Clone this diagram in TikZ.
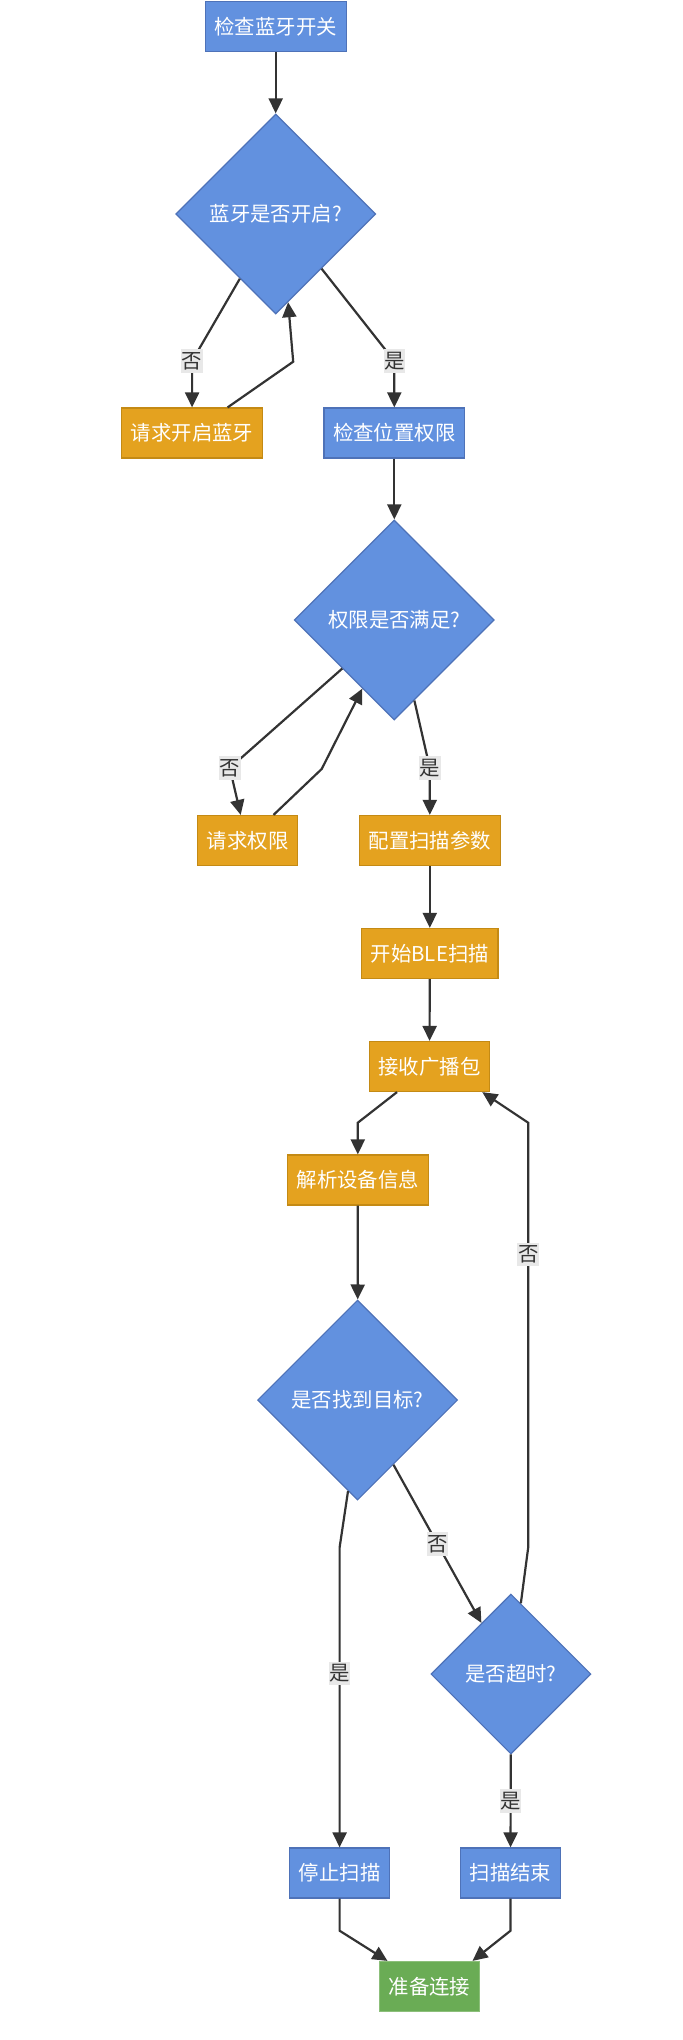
\documentclass[tikz,border=0pt]{standalone}
\usepackage{fontspec}
\setmainfont{Noto Sans CJK SC}
\usetikzlibrary{shapes.geometric, arrows.meta}

\definecolor{checkfill}{HTML}{6291DF}
\definecolor{checkline}{HTML}{4E72B8}
\definecolor{actionfill}{HTML}{E4A21F}
\definecolor{actionline}{HTML}{C48A14}
\definecolor{finishfill}{HTML}{6AAC55}
\definecolor{finishline}{HTML}{8CBF7A}
\definecolor{flowgray}{HTML}{333333}
\definecolor{answerfill}{HTML}{E8E8E8}

\newcommand{\flowfont}{\fontsize{10.2}{11.5}\selectfont}

\begin{document}
\begin{tikzpicture}[
    x = 0.5pt,
    y = -0.5pt,
    box/.style = {
        rectangle,
        minimum height = 25pt,
        inner xsep = 4.6pt,
        text = white,
        font = \flowfont,
        line width = 0.6pt
    },
    check/.style = {box, draw = checkline, fill = checkfill},
    action/.style = {box, draw = actionline, fill = actionfill},
    finish/.style = {box, draw = finishline, fill = finishfill},
    decision/.style = {
        diamond,
        aspect = 1,
        minimum width = 100pt,
        minimum height = 100pt,
        inner sep = 0pt,
        text = white,
        draw = checkline,
        fill = checkfill,
        line width = 0.6pt,
        font = \flowfont
    },
    arrow/.style = {
        -{Triangle[length = 7.5pt, width = 7pt]},
        line width = 1.1pt,
        draw = flowgray
    },
    answer/.style = {
        fill = answerfill,
        text = flowgray,
        font = \flowfont,
        inner xsep = 0.3pt,
        inner ysep = 1.5pt
    }
]
    \useasboundingbox (0,0) rectangle (683,2040);

    % Bluetooth switch
    \node [check] (btswitch) at (275.7, 26.5) {检查蓝牙开关};
    \node [decision] (btopen) at (275.7, 214) {蓝牙是否开启?};
    \node [action] (reqbt) at (192.1, 433) {请求开启蓝牙};
    \node [check] (location) at (394.3, 433) {检查位置权限};

    % Permission
    \node [decision] (permok) at (394.3, 620) {权限是否满足?};
    \node [action] (reqperm) at (247.7, 840.5) {请求权限};
    \node [action] (config) at (429.8, 840.5) {配置扫描参数};

    % Scanning
    \node [action] (blescan) at (429.8, 953.5) {开始BLE扫描};
    \node [action] (receive) at (429.5, 1066.5) {接收广播包};
    \node [action] (parse) at (357.8, 1180) {解析设备信息};
    \node [decision] (found) at (357.6, 1400) {是否找到目标?};
    \node [decision, minimum width = 80pt, minimum height = 80pt] (timeout) at (510.9, 1674) {是否超时?};

    % End of scan
    \node [check] (stop) at (339.6, 1873) {停止扫描};
    \node [check] (scanend) at (510.5, 1873) {扫描结束};
    \node [finish] (ready) at (429.5, 1986.5) {准备连接};

    % Bends
    \coordinate (btno) at (192.1, 361);
    \coordinate (btback) at (293.2, 361.7);
    \coordinate (btyes) at (394.3, 361);
    \coordinate (permno) at (229.8, 768);
    \coordinate (permback) at (321.7, 769);
    \coordinate (permyes) at (429.8, 768);
    \coordinate (parsein) at (357.8, 1122.7);
    \coordinate (foundyes) at (339.6, 1547.5);
    \coordinate (timeoutup) at (528.2, 1547.5);
    \coordinate (timeouttop) at (528.2, 1122.7);
    \coordinate (stopout) at (339.6, 1930.7);
    \coordinate (endout) at (510.5, 1930.7);

    % Connections
    \draw [arrow] (btswitch) -- (btopen);
    \draw [arrow] (btopen.241) -- (btno) node [answer] {否} -- (reqbt);
    \draw [arrow] ([xshift = 17.75pt]reqbt.north) -- (btback) -- (btopen.278);
    \draw [arrow] (btopen.310) -- (btyes) node [answer] {是} -- (location);
    \draw [arrow] (location) -- (permok);
    \draw [arrow] (permok.223) -- (permno) node [answer] {否} -- ([xshift = -3.5pt]reqperm.north);
    \draw [arrow] ([xshift = 12.9pt]reqperm.north) -- (permback) -- (permok.245);
    \draw [arrow] (permok.284) -- (permyes) node [answer] {是} -- (config);
    \draw [arrow] (config) -- (blescan);
    \draw [arrow] (blescan) -- (receive);
    \draw [arrow] ([xshift = -16.25pt]receive.south) -- (parsein) -- (parse);
    \draw [arrow] (parse) -- (found);
    \draw [arrow] (found.264) -- (foundyes) -- node [answer, pos = 0.42] {是} (stop);
    \draw [arrow] (found.299) -- node [answer] {否} (timeout.120);
    \draw [arrow] (timeout.82) -- (timeoutup) -- node [answer, pos = 0.69] {否} (timeouttop) -- ([xshift = -4pt]receive.south east);
    \draw [arrow] (timeout) -- node [answer] {是} (scanend);
    \draw [arrow] (stop) -- (stopout) -- ([xshift = -21pt]ready.north);
    \draw [arrow] (scanend) -- (endout) -- ([xshift = 21.5pt]ready.north);

\end{tikzpicture}
\end{document}
